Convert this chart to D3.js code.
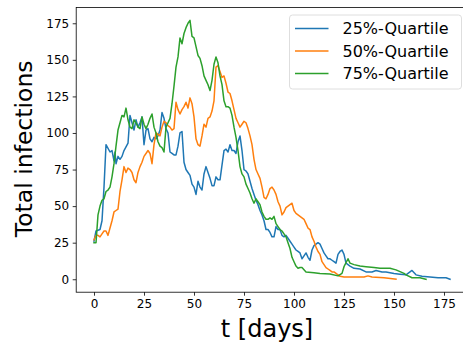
<!DOCTYPE html>
<html>
<head>
<meta charset="utf-8">
<script src="https://cdn.jsdelivr.net/npm/d3@7"></script>
<style>
  body { margin: 0; background: #fff; }
  svg { display: block; font-family: "DejaVu Sans", sans-serif; }
</style>
</head>
<body>
<script>
let seriesNames = ['25%-Quartile', '50%-Quartile', '75%-Quartile']
let colors = ['#1f77b4', '#ff7f0e', '#2ca02c']
let xTicks = [0, 25, 50, 75, 100, 125, 150, 175]
let yTicks = [0, 25, 50, 75, 100, 125, 150, 175]

// [day, infections]
let q25 = [[0,26],[1,33],[3,34],[4,40],[5,63],[6,92],[8,87],[9,88],[10,81],[10.5,87],[11,79],[12,84],[13,82],[14,84],[15,88],[17,93],[18,112],[19,107],[20,102],[21,109],[22,104],[23,107],[24,111],[25,92],[26,102],[27,103],[28,96],[29,94],[30,97],[31,96],[32,98],[33,102],[34,114],[35,110],[36,103],[37,100],[38,87],[39,86],[40,85],[41,85],[42,91],[43,100],[44,101],[45,80],[46,75],[47,73],[48,71],[49,65],[50,63],[51,58],[52,67],[53,63],[54,61],[55,72],[56,77],[57,73],[58,69],[59,64],[60,64],[61,70],[62,68],[63,68],[64,78],[65,88],[66,89],[67,87],[68,92],[69,88],[70,88],[71,86],[72,94],[73,98],[74,88],[75,75],[76,74],[77,72],[78,67],[79,62],[80,58],[81,54],[82,51],[83,47],[84,44],[85,40],[86,34],[87,34],[88,32],[89,29],[90,29],[91,36],[92,34],[93,34],[94,30],[95,29],[96,30],[97,28],[98,26],[99,24],[100,22],[101,20],[102,19],[103,18],[104,14],[105,16],[106,18],[107,15],[108,13],[109,20],[110,23],[111,24],[112,25],[113,24],[114,21],[115,18],[116,16],[117,14],[118,14],[119,13],[120,12],[121,11],[122,17],[123,19],[124,20],[125,17],[126,11],[127,10],[128,9],[130,7.5],[133,7],[136,5],[139,5],[141,6],[144,5],[146,5],[150,4],[153,3.5],[156,3],[159,6],[161,3],[164,2],[168,1.5],[172,1],[176,1],[178,0]]

let q50 = [[0,27],[1,30],[2,30],[3,29],[4,31],[5,33],[6,33],[7,30],[8,35],[9,40],[10,46],[11,47],[12,48],[13,60],[14,68],[15,77],[16,73],[17,76],[18,75],[19,73],[20,68],[21,66],[22,73],[23,77],[24,80],[25,84],[26,86],[27,88],[28,86],[29,79],[30,92],[31,100],[32,99],[33,98],[34,104],[35,108],[36,107],[37,105],[38,104],[39,102],[40,103],[41,121],[42,116],[43,113],[44,116],[45,118],[46,121],[47,117],[48,124],[49,120],[50,111],[51,96],[52,92],[53,91],[54,98],[55,106],[56,104],[57,110],[58,111],[59,115],[60,122],[61,145],[62,146],[63,142],[64,138],[65,139],[66,134],[67,128],[68,127],[69,122],[70,116],[71,110],[72,107],[73,104],[74,106],[75,108],[76,107],[77,103],[78,98],[79,92],[80,82],[81,75],[82,72],[83,69],[84,63],[85,56],[86,55],[87,58],[88,62],[89,63],[90,61],[91,58],[92,53],[93,50],[94,44],[95,46],[96,49],[97,50],[98,51],[99,52],[100,47],[101,45],[102,44],[103,43],[104,42],[105,41],[106,38],[107,35],[108,34],[109,29],[110,26],[111,22],[112,19],[113,17],[114,12],[115,10],[116,8],[117,7],[118,6],[119,5],[120,5],[121,4],[123,2],[125,1.5],[130,1.5],[135,1.5],[137,2.3],[139,1.5],[145,1],[151,0]]

let q75 = [[0,25],[1,25],[2,44],[3,50],[4,54],[5,55],[6,60],[7,61],[8,63],[9,70],[10,79],[11,91],[12,102],[13,107],[14,112],[15,111],[16,117],[17,109],[18,104],[19,103],[20,109],[21,107],[22,104],[23,103],[24,111],[25,106],[26,103],[27,106],[28,110],[29,113],[30,104],[31,100],[32,94],[33,91],[34,90],[35,87],[36,104],[37,107],[38,110],[39,120],[40,132],[41,145],[42,152],[43,165],[44,161],[45,168],[46,172],[47,175],[48,177],[49,166],[50,165],[51,159],[52,153],[53,151],[54,146],[55,139],[56,136],[57,133],[58,129],[59,136],[60,147],[61,152],[62,148],[63,139],[64,133],[65,122],[66,118],[67,118],[68,117],[69,112],[70,104],[71,97],[72,88],[73,77],[74,72],[75,70],[76,65],[77,62],[78,59],[79,55],[80,52],[81,55],[82,53],[83,51],[84,46],[85,43],[86,41],[87,41],[88,42],[89,41],[90,43],[91,38],[92,36],[93,34],[94,33],[95,31],[96,29],[97,25],[98,21],[99,15],[100,12],[101,9],[102,7.5],[103,8],[104,8],[106,5],[110,4.5],[113,4],[118,3.6],[122,2.3],[124,4],[125,8.6],[127,14],[128,11],[130,10],[133,9],[136,8.6],[140,8],[143,7.5],[148,7.5],[151,6.4],[155,4],[156,3],[159,1],[163,1],[166,0]]

let series = [q25, q50, q75]

let W = 463, H = 345
let margin = { top: 7.4, left: 76.2 }
let plotW = 391.6, plotH = 284.8

let svg = d3.select('body').append('svg')
  .attr('width', W)
  .attr('height', H)

let x = d3.scaleLinear().domain([-8.9, 186.9]).range([margin.left, margin.left + plotW])
let y = d3.scaleLinear().domain([-8.85, 185.85]).range([margin.top + plotH, margin.top])

// lines
let line = d3.line().x(d => x(d[0])).y(d => y(d[1]))
series.forEach((s, i) => {
  svg.append('path')
    .attr('d', line(s))
    .attr('fill', 'none')
    .attr('stroke', colors[i])
    .attr('stroke-width', 1.5)
    .attr('stroke-linejoin', 'round')
    .attr('stroke-linecap', 'square')
})

// frame
svg.append('rect')
  .attr('x', margin.left)
  .attr('y', margin.top)
  .attr('width', plotW)
  .attr('height', plotH)
  .attr('fill', 'none')
  .attr('stroke', '#000')
  .attr('stroke-width', 0.8)

// axes
let xAxis = svg.append('g')
  .attr('transform', `translate(0,${margin.top + plotH})`)
  .call(d3.axisBottom(x).tickValues(xTicks).tickSize(3.5).tickPadding(3.5))
let yAxis = svg.append('g')
  .attr('transform', `translate(${margin.left},0)`)
  .call(d3.axisLeft(y).tickValues(yTicks).tickSize(3.5).tickPadding(3.5))

;[xAxis, yAxis].forEach(g => {
  g.select('.domain').remove()
  g.selectAll('.tick line').attr('stroke', '#000').attr('stroke-width', 0.8)
  g.selectAll('.tick text')
    .attr('fill', '#000')
    .style('font-family', '"DejaVu Sans", sans-serif')
    .style('font-size', '12px')
})

// axis labels
svg.append('text')
  .attr('x', x(87.5) - 2)
  .attr('y', 337)
  .attr('text-anchor', 'middle')
  .style('font-size', '24px')
  .text('t [days]')

svg.append('text')
  .attr('transform', `translate(32,${margin.top + plotH / 2 - 1}) rotate(-90)`)
  .attr('text-anchor', 'middle')
  .style('font-size', '23.5px')
  .text('Total infections')

// legend
let legend = svg.append('g')
legend.append('rect')
  .attr('x', 289.5)
  .attr('y', 15)
  .attr('width', 172)
  .attr('height', 74)
  .attr('rx', 3)
  .attr('fill', '#fff')
  .attr('fill-opacity', 0.8)
  .attr('stroke', '#d5d5d5')
  .attr('stroke-width', 0.8)

seriesNames.forEach((name, i) => {
  let cy = 28.5 + i * 22.5
  legend.append('line')
    .attr('x1', 295).attr('x2', 328.5)
    .attr('y1', cy).attr('y2', cy)
    .attr('stroke', colors[i])
    .attr('stroke-width', 1.5)
  legend.append('text')
    .attr('x', 342.5)
    .attr('y', cy)
    .attr('dy', '0.36em')
    .style('font-size', '16px')
    .text(name)
})
</script>
</body>
</html>
